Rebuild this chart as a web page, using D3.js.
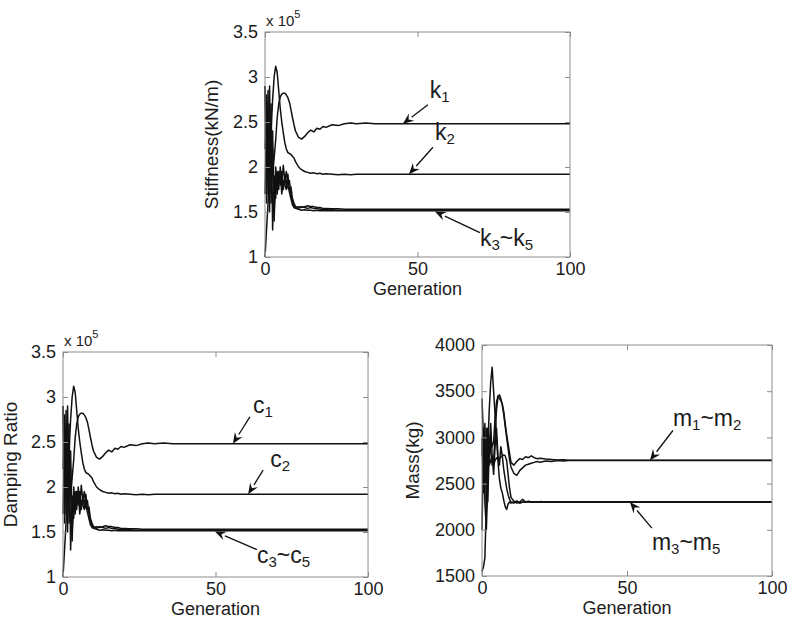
<!DOCTYPE html>
<html><head><meta charset="utf-8">
<script src="https://cdn.jsdelivr.net/npm/d3@7"></script>
<style>
body{margin:0;background:#fff}
text{font-family:"Liberation Sans",Arial,sans-serif;fill:#1c1c1c}
</style>
</head><body>
<svg id="chart" width="792" height="626"></svg>
<script>
// ---- data ----
const generations = [0,0.5,1,1.5,2,2.5,3,3.5,4,4.5,
  5,5.5,6,6.5,7,7.5,8,8.5,9,9.5,
  10,11,12,13,14,15,16,17,18,19,
  20,22,24,26,28,30,33,36,40,45,
  50,60,70,80,90,100];

// stiffness (x 10^5 kN/m)
const k1 = [2.9,1.8,2.6,1.7,2.5,1.9,2.1,2.3,2.55,2.7,
  2.78,2.81,2.82,2.82,2.8,2.77,2.72,2.64,2.55,2.47,
  2.4,2.33,2.31,2.34,2.38,2.41,2.39,2.43,2.42,2.45,
  2.44,2.47,2.46,2.48,2.49,2.48,2.49,2.48,2.48,2.48,
  2.48,2.48,2.48,2.48,2.48,2.48];
const k2 = [1.0,1.3,1.6,2.0,2.4,2.75,3.0,3.12,3.05,2.85,
  2.65,2.5,2.38,2.27,2.2,2.16,2.15,2.14,2.12,2.1,
  2.06,2.0,1.97,1.95,1.94,1.93,1.935,1.925,1.93,1.92,
  1.925,1.92,1.915,1.92,1.915,1.92,1.92,1.92,1.92,1.92,
  1.92,1.92,1.92,1.92,1.92,1.92];
const k3 = [2.9,1.6,2.85,1.5,2.7,1.3,1.9,1.65,1.95,1.75,
  2.0,1.8,2.02,1.85,1.95,1.8,1.85,1.7,1.62,1.57,
  1.55,1.56,1.55,1.56,1.57,1.56,1.56,1.55,1.55,1.54,
  1.54,1.535,1.535,1.53,1.53,1.53,1.53,1.53,1.53,1.53,
  1.53,1.53,1.53,1.53,1.53,1.53];
const k4 = [2.2,2.8,1.7,2.9,1.6,2.4,1.5,1.85,1.7,1.95,
  1.8,1.95,1.75,1.9,1.78,1.92,1.75,1.78,1.65,1.6,
  1.56,1.54,1.56,1.55,1.54,1.55,1.54,1.54,1.53,1.53,
  1.525,1.525,1.52,1.52,1.52,1.52,1.52,1.52,1.52,1.52,
  1.52,1.52,1.52,1.52,1.52,1.52];
const k5 = [1.7,2.5,2.1,2.7,1.9,2.2,1.4,2.0,1.8,1.85,
  1.95,1.7,1.85,1.8,1.75,1.8,1.72,1.65,1.58,1.55,
  1.54,1.53,1.52,1.525,1.52,1.52,1.515,1.52,1.515,1.515,
  1.515,1.515,1.515,1.515,1.515,1.515,1.515,1.515,1.515,1.515,
  1.515,1.515,1.515,1.515,1.515,1.515];

// damping (x 10^5)
const c1 = k1.slice(), c2 = k2.slice(), c3 = k3.slice(), c4 = k4.slice(), c5 = k5.slice();

// mass (kg)
const m1 = [3420,3000,2300,2000,2500,3000,2850,2700,2750,3000,
  3300,3430,3460,3420,3350,3250,3120,3000,2880,2760,
  2680,2610,2590,2640,2670,2700,2710,2720,2730,2740,
  2730,2745,2740,2750,2745,2750,2750,2750,2750,2750,
  2750,2750,2750,2750,2750,2750];
const m2 = [2800,3100,2600,2900,2700,2800,3000,2900,2950,3200,
  3380,3450,3420,3400,3360,3280,3150,3030,2930,2830,
  2730,2700,2740,2770,2760,2790,2780,2800,2780,2770,
  2775,2765,2760,2755,2758,2752,2752,2752,2752,2752,
  2752,2752,2752,2752,2752,2752];
const m3 = [1550,1600,1700,2300,2900,3300,3600,3760,3500,3250,
  3000,2750,2550,2450,2400,2320,2250,2220,2280,2300,
  2290,2300,2310,2290,2300,2300,2300,2300,2300,2300,
  2300,2300,2300,2300,2300,2300,2300,2300,2300,2300,
  2300,2300,2300,2300,2300,2300];
const m4 = [3000,2400,3150,2200,3100,2700,2750,2800,2700,2750,
  2780,2760,2770,2790,2800,2810,2800,2750,2600,2450,
  2350,2310,2290,2300,2330,2300,2310,2300,2300,2300,
  2305,2300,2300,2300,2300,2300,2300,2300,2300,2300,
  2300,2300,2300,2300,2300,2300];
const m5 = [2000,2900,2500,3100,2300,2900,3150,2800,2600,2900,
  3100,2800,2700,2900,2800,2650,2550,2450,2380,2330,
  2300,2290,2310,2290,2300,2300,2300,2300,2300,2300,
  2300,2300,2300,2300,2300,2300,2300,2300,2300,2300,
  2300,2300,2300,2300,2300,2300];

const genTicks = [0,50,100];
const stiffTicks = [1,1.5,2,2.5,3,3.5];
const dampTicks = [1,1.5,2,2.5,3,3.5];
const massTicks = [1500,2000,2500,3000,3500,4000];
const xLabel = 'Generation';

// ---- layout ----
const panels = [
  {box:{left:265,top:32,width:305,height:225}, yDomain:[1,3.5], yTicks:stiffTicks,
   yLabel:'Stiffness(kN/m)', yLabelDx:-47, exponent:'5', series:[k1,k2,k3,k4,k5],
   notes:[
     {parts:[['k','1']], tip:[45.2,2.48], start:[25,-19], text:[27,-26]},
     {parts:[['k','2']], tip:[47.2,1.92], start:[24,-27], text:[26,-34]},
     {parts:[['k','3'],['~k','5']], tip:[55.7,1.505], start:[45,21], text:[45,34]}
   ]},
  {box:{left:63,top:352,width:305,height:225}, yDomain:[1,3.5], yTicks:dampTicks,
   yLabel:'Damping Ratio', yLabelDx:-46, exponent:'5', series:[c1,c2,c3,c4,c5],
   notes:[
     {parts:[['c','1']], tip:[55.7,2.48], start:[17,-27], text:[20,-31]},
     {parts:[['c','2']], tip:[60.7,1.92], start:[15,-24], text:[22,-27]},
     {parts:[['c','3'],['~c','5']], tip:[49.8,1.505], start:[42,18], text:[42,31]}
   ]},
  {box:{left:482,top:345,width:290,height:231}, yDomain:[1500,4000], yTicks:massTicks,
   yLabel:'Mass(kg)', yLabelDx:-63, exponent:null, series:[m1,m2,m3,m4,m5],
   notes:[
     {parts:[['m','1'],['~m','2']], tip:[57.9,2750], start:[23,-30], text:[23,-35]},
     {parts:[['m','3'],['~m','5']], tip:[51,2300], start:[22,26], text:[22,48]}
   ]}
];

const svg = d3.select('#chart');
svg.append('rect').attr('width',792).attr('height',626).attr('fill','#fff');

const boxColor = '#8c8c8c';
const tickLen = 5;

panels.forEach(p => {
  const b = p.box;
  const x = d3.scaleLinear().domain([0,100]).range([b.left, b.left + b.width]);
  const y = d3.scaleLinear().domain(p.yDomain).range([b.top + b.height, b.top]);
  const g = svg.append('g');

  // lines
  const line = d3.line().x((d,i) => x(generations[i])).y(d => y(d));
  p.series.forEach(s => {
    g.append('path').datum(s).attr('d', line)
      .attr('fill','none').attr('stroke','#111').attr('stroke-width',1.5)
      .attr('stroke-linejoin','round');
  });

  // box
  g.append('rect').attr('x',b.left).attr('y',b.top).attr('width',b.width).attr('height',b.height)
    .attr('fill','none').attr('stroke',boxColor).attr('stroke-width',1);

  // axes (inward ticks on all sides)
  const axB = d3.axisBottom(x).tickValues(genTicks).tickSizeInner(-tickLen).tickSizeOuter(0).tickPadding(5).tickFormat(d3.format('d'));
  const gB = g.append('g').attr('transform',`translate(0,${b.top+b.height})`).call(axB);
  const axT = d3.axisTop(x).tickValues(genTicks).tickSizeInner(-tickLen).tickSizeOuter(0).tickFormat('');
  const gT = g.append('g').attr('transform',`translate(0,${b.top})`).call(axT);
  const axL = d3.axisLeft(y).tickValues(p.yTicks).tickSizeInner(-tickLen).tickSizeOuter(0).tickPadding(7).tickFormat(d3.format('~g'));
  const gL = g.append('g').attr('transform',`translate(${b.left},0)`).call(axL);
  const axR = d3.axisRight(y).tickValues(p.yTicks).tickSizeInner(-tickLen).tickSizeOuter(0).tickFormat('');
  const gR = g.append('g').attr('transform',`translate(${b.left+b.width},0)`).call(axR);
  [gB,gT,gL,gR].forEach(ax => {
    ax.select('.domain').remove();
    ax.selectAll('line').attr('stroke',boxColor);
    ax.selectAll('text').attr('font-size',18).attr('font-family','"Liberation Sans",Arial,sans-serif').attr('fill','#1c1c1c');
  });

  // axis labels
  g.append('text').attr('x', b.left + b.width/2).attr('y', b.top + b.height + 38)
    .attr('text-anchor','middle').attr('font-size',18).text(xLabel);
  g.append('text').attr('transform',`translate(${b.left + p.yLabelDx},${b.top + b.height/2}) rotate(-90)`)
    .attr('text-anchor','middle').attr('font-size',19).text(p.yLabel);

  // exponent
  if (p.exponent) {
    const t = g.append('text').attr('x', b.left + 1).attr('y', b.top - 6).attr('font-size',15);
    t.append('tspan').text('x 10');
    t.append('tspan').attr('dy',-8).attr('font-size',11).text(p.exponent);
  }

  // annotations
  p.notes.forEach(n => {
    const tx = x(n.tip[0]), ty = y(n.tip[1]);
    const sx = tx + n.start[0], sy = ty + n.start[1];
    const ang = Math.atan2(ty - sy, tx - sx);
    const hl = 11, hw = 4.5;
    const bx = tx - hl*Math.cos(ang), by = ty - hl*Math.sin(ang);
    g.append('line').attr('x1',sx).attr('y1',sy).attr('x2',bx).attr('y2',by)
      .attr('stroke','#111').attr('stroke-width',1.3);
    const px = -Math.sin(ang), py = Math.cos(ang);
    g.append('path').attr('d', `M${tx},${ty}L${bx+px*hw},${by+py*hw}L${bx+0.35*hl*Math.cos(ang)},${by+0.35*hl*Math.sin(ang)}L${bx-px*hw},${by-py*hw}Z`)
      .attr('fill','#111');
    const t = g.append('text').attr('x', tx + n.text[0]).attr('y', ty + n.text[1]).attr('font-size',23);
    n.parts.forEach((pt,i) => {
      t.append('tspan').attr('dy', i === 0 ? 0 : -4).attr('font-size',23).text(pt[0]);
      t.append('tspan').attr('dy', 4).attr('font-size',15).text(pt[1]);
    });
  });
});
</script>
</body></html>
